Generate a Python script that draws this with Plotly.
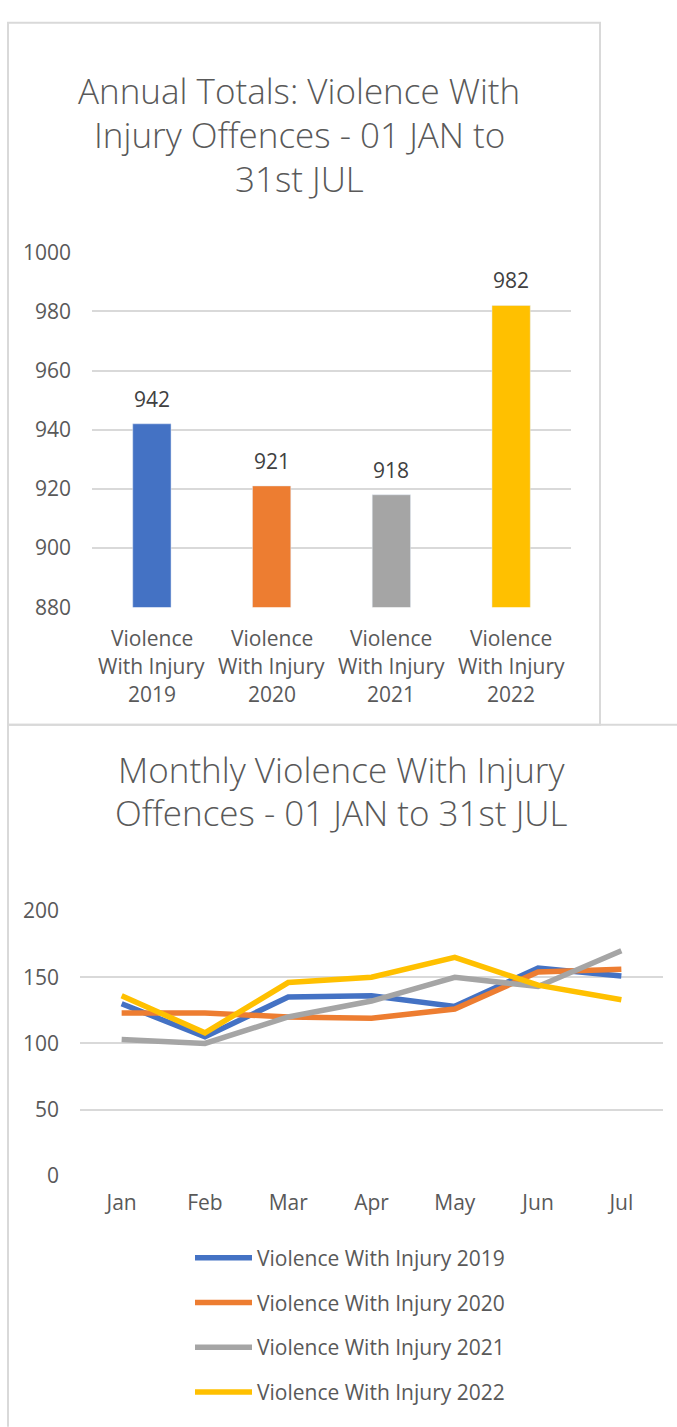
import plotly.graph_objects as go

W, H = 677, 1427

# ---------------- data ----------------
bar_categories = ["Violence With Injury 2019", "Violence With Injury 2020",
                  "Violence With Injury 2021", "Violence With Injury 2022"]
bar_totals = [942, 921, 918, 982]
series_colors = ["#4472C4", "#ED7D31", "#A5A5A5", "#FFC000"]

months = ["Jan", "Feb", "Mar", "Apr", "May", "Jun", "Jul"]
series_names = ["Violence With Injury 2019", "Violence With Injury 2020",
                "Violence With Injury 2021", "Violence With Injury 2022"]
vwi_2019 = [130, 105, 135, 136, 128, 157, 151]
vwi_2020 = [123, 123, 120, 119, 126, 154, 156]
vwi_2021 = [103, 100, 120, 132, 150, 143, 170]
vwi_2022 = [136, 108, 146, 150, 165, 144, 133]
monthly_series = [vwi_2019, vwi_2020, vwi_2021, vwi_2022]

title_top = ["Annual Totals: Violence With", "Injury Offences - 01 JAN to", "31st JUL"]
title_bottom = ["Monthly Violence With Injury", "Offences - 01 JAN to 31st JUL"]

# ---------------- helpers ----------------
def px_x(p):
    return p / W

def px_y(p):
    return 1 - p / H

FONT = "Open Sans, Noto Sans, sans-serif"
TXT = "#595959"
GRID = "#D9D9D9"

fig = go.Figure()

fig.add_trace(go.Bar(
    x=bar_categories, y=bar_totals, marker_color=series_colors,
    width=0.32, xaxis="x", yaxis="y", showlegend=False, hoverinfo="skip",
))

for name, vals, col in zip(series_names, monthly_series, series_colors):
    fig.add_trace(go.Scatter(
        x=months, y=vals, mode="lines", name=name,
        line=dict(color=col, width=5.5),
        xaxis="x2", yaxis="y2", legendgroup=name,
    ))

annotations = []
# titles
for i, line in enumerate(title_top):
    annotations.append(dict(text=line, x=px_x(299), y=px_y(77 + 45 * i),
                            xref="paper", yref="paper", showarrow=False,
                            xanchor="center", yanchor="middle",
                            font=dict(family=FONT, size=35, color=TXT, weight=300)))
for i, line in enumerate(title_bottom):
    annotations.append(dict(text=line, x=px_x(341), y=px_y(770 + 43 * i),
                            xref="paper", yref="paper", showarrow=False,
                            xanchor="center", yanchor="middle",
                            font=dict(family=FONT, size=35, color=TXT, weight=300)))
# bar data labels
for c, v in zip(bar_categories, bar_totals):
    annotations.append(dict(text=str(v), x=c, y=v, xref="x", yref="y",
                            showarrow=False, yanchor="middle", yshift=25,
                            font=dict(family=FONT, size=21, color="#404040")))
# bar category labels (3 lines each)
for c in bar_categories:
    words = c.split(" ")
    lines = [words[0], " ".join(words[1:3]), words[3]]
    for j, ln in enumerate(lines):
        annotations.append(dict(text=ln, x=c, y=px_y(635 + 29 * j), xref="x", yref="paper",
                                showarrow=False, yanchor="middle",
                                font=dict(family=FONT, size=21, color=TXT)))

shapes = [
    dict(type="rect", xref="paper", yref="paper", x0=px_x(8), x1=px_x(600),
         y0=px_y(724), y1=px_y(8), line=dict(color=GRID, width=2)),
    dict(type="line", xref="paper", yref="paper", x0=px_x(8), x1=px_x(690),
         y0=px_y(724), y1=px_y(724), line=dict(color=GRID, width=2)),
    dict(type="line", xref="paper", yref="paper", x0=px_x(8), x1=px_x(8),
         y0=px_y(724), y1=px_y(1440), line=dict(color=GRID, width=2)),
]

fig.update_layout(
    width=W, height=H,
    margin=dict(l=0, r=0, t=0, b=0),
    paper_bgcolor="white", plot_bgcolor="white",
    font=dict(family=FONT, color=TXT, size=21),
    annotations=annotations, shapes=shapes,
    xaxis=dict(domain=[px_x(92), px_x(571)], showticklabels=False, showgrid=False,
               zeroline=False, showline=False, fixedrange=True),
    yaxis=dict(domain=[px_y(604), px_y(242)], range=[880, 1000], dtick=20,
               showgrid=True, gridcolor=GRID, gridwidth=2, zeroline=False,
               tickfont=dict(family=FONT, size=21, color=TXT),
               ticklabelstandoff=20, fixedrange=True),
    xaxis2=dict(domain=[px_x(80), px_x(663)], anchor="y2", showgrid=False,
                range=[-0.5, 6.5], zeroline=False, showline=False,
                tickfont=dict(family=FONT, size=21, color=TXT),
                ticklabelstandoff=12, fixedrange=True),
    yaxis2=dict(domain=[px_y(1184), px_y(914)], anchor="x2", range=[0, 200], dtick=50,
                showgrid=True, gridcolor=GRID, gridwidth=2, zeroline=False,
                tickfont=dict(family=FONT, size=21, color=TXT),
                ticklabelstandoff=20, fixedrange=True),
    legend=dict(x=px_x(190), y=px_y(1247), xanchor="left", yanchor="top",
                orientation="v", traceorder="grouped", tracegroupgap=14.5,
                itemwidth=57, font=dict(family=FONT, size=21, color=TXT),
                bgcolor="rgba(0,0,0,0)"),
    showlegend=True,
)

fig.write_html("out.html", config={"displayModeBar": False},
               post_script="document.body.style.margin='0';document.body.style.overflow='hidden';")
